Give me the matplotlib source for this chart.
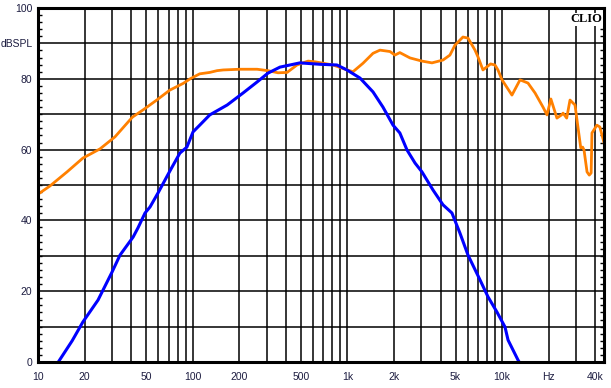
import numpy as np
import matplotlib
matplotlib.use("Agg")
import matplotlib.pyplot as plt

# Orange trace (on-axis response)
orange_f = [10, 11.93, 15.4, 19.5, 25.16, 31.45, 39.32, 40.87, 47.73, 58.56, 71.1, 86.8,
            96.3, 111, 128.9, 143.7, 157.5, 202.1, 260.7, 306.6, 355.9, 407.5, 472.1,
            557.2, 617.6, 695.8, 807.4, 936.7, 1087, 1262, 1464, 1624, 1886, 2028,
            2183, 2538, 3035, 3522, 4150, 4600, 4959, 5584, 6021, 6682, 6984, 7521,
            8425, 8995, 9402, 9990, 11580, 13060, 14700, 16330, 18390, 19510, 20670,
            22620, 24220, 24790, 26160, 27480, 29600, 30920, 32250, 33170, 33850,
            35410, 36610, 37640, 38100, 41000, 42840, 45490]
orange_db = [47.4, 49.7, 53.7, 57.6, 60.2, 63.6, 68.4, 69.2, 71.2, 74.0, 76.8, 78.7, 80.0,
             81.4, 81.8, 82.3, 82.5, 82.7, 82.7, 82.3, 81.7, 81.8, 83.9, 85.0, 84.8,
             84.4, 83.9, 82.9, 82.0, 84.4, 87.2, 88.1, 87.7, 86.7, 87.4, 85.9, 85.0,
             84.5, 85.3, 86.7, 89.5, 91.8, 91.5, 88.1, 86.2, 82.5, 84.2, 83.9, 82.5,
             79.7, 75.4, 79.7, 78.8, 76.0, 72.0, 69.8, 74.3, 68.9, 69.8, 70.3, 68.9,
             74.0, 72.6, 66.4, 60.5, 60.7, 59.9, 53.7, 52.8, 53.4, 64.7, 66.9, 66.4, 62.1]

# Blue trace
blue_f = [13.67, 16.63, 19.5, 24.44, 30.1, 33.9, 41.2, 44.3, 49.2, 53.0, 59.6, 71.1, 82.6,
          91.7, 100.5, 111, 128.9, 167.1, 211.7, 260.7, 306.6, 366.6, 493.6, 665.5,
          855.8, 993.3, 1207, 1464, 1698, 1973, 2183, 2428, 2737, 3035, 3575, 4150,
          4739, 5342, 6021, 7198, 8110, 9268, 10440, 10930, 12660, 12900]
blue_db = [0.3, 6.0, 11.3, 17.5, 25.4, 30.2, 35.3, 37.9, 42.1, 43.8, 47.7, 53.9, 59.0,
           60.7, 65.0, 66.9, 69.8, 72.6, 76.0, 79.1, 81.6, 83.3, 84.5, 84.1, 83.9,
           82.5, 80.2, 76.3, 72.0, 66.9, 64.7, 59.9, 56.2, 53.7, 48.6, 44.4, 42.1,
           36.4, 30.2, 23.2, 18.4, 14.1, 9.9, 6.2, 0.6, 0.0]

x_ticks = [10, 20, 50, 100, 200, 500, 1000, 2000, 5000, 10000, 20000, 40000]
x_labels = ["10", "20", "50", "100", "200", "500", "1k", "2k", "5k", "10k", "Hz", "40k"]
y_ticks = [0, 20, 40, 60, 80, 90, 100]
y_labels = ["0", "20", "40", "60", "80", "dBSPL", "100"]

W, H = 611, 388
fig = plt.figure(figsize=(W / 100, H / 100), dpi=100)
ax = fig.add_axes([38 / W, (H - 362) / H, (604 - 38) / W, (362 - 8) / H])

ax.set_xscale("log")
ax.set_xlim(10, 45580)
ax.set_ylim(0, 100)

# grid: every decade step and every 10 dB
vgrid = [m * 10 ** e for e in range(1, 5) for m in range(1, 10) if m * 10 ** e <= 40000]
for v in vgrid:
    ax.axvline(v, color="black", lw=1.1, zorder=1)
for h in range(10, 100, 10):
    ax.axhline(h, color="black", lw=1.1, zorder=1)

ax.plot(orange_f, orange_db, color="#ff8000", lw=2.0, zorder=3)
ax.plot(blue_f, blue_db, color="#0000ff", lw=2.2, zorder=3)

txt = "#1c1c40"
ax.set_xticks(x_ticks)
ax.set_xticklabels(x_labels)
ax.set_yticks(y_ticks)
ax.set_yticklabels(y_labels)
ax.xaxis.set_minor_locator(matplotlib.ticker.NullLocator())
ax.set_yticks(np.arange(0, 101, 2), minor=True)
ax.tick_params(axis="x", which="both", length=0, pad=7, labelsize=7.5,
               labelcolor=txt)
ax.tick_params(axis="y", which="major", length=0, pad=4, labelsize=7.5,
               labelcolor=txt)
ax.tick_params(axis="y", which="minor", direction="in", length=3, width=1,
               left=True, right=True)
for lab in ax.get_xticklabels() + ax.get_yticklabels():
    lab.set_fontfamily("Liberation Sans")

for s in ax.spines.values():
    s.set_linewidth(2.2)
    s.set_zorder(4)

ax.text(0.997, 0.985, "CLIO", transform=ax.transAxes, ha="right", va="top",
        fontsize=9, fontweight="bold", family="Liberation Serif", zorder=5,
        bbox=dict(facecolor="white", edgecolor="none", pad=0.5))

fig.savefig("out.png", dpi=100)
